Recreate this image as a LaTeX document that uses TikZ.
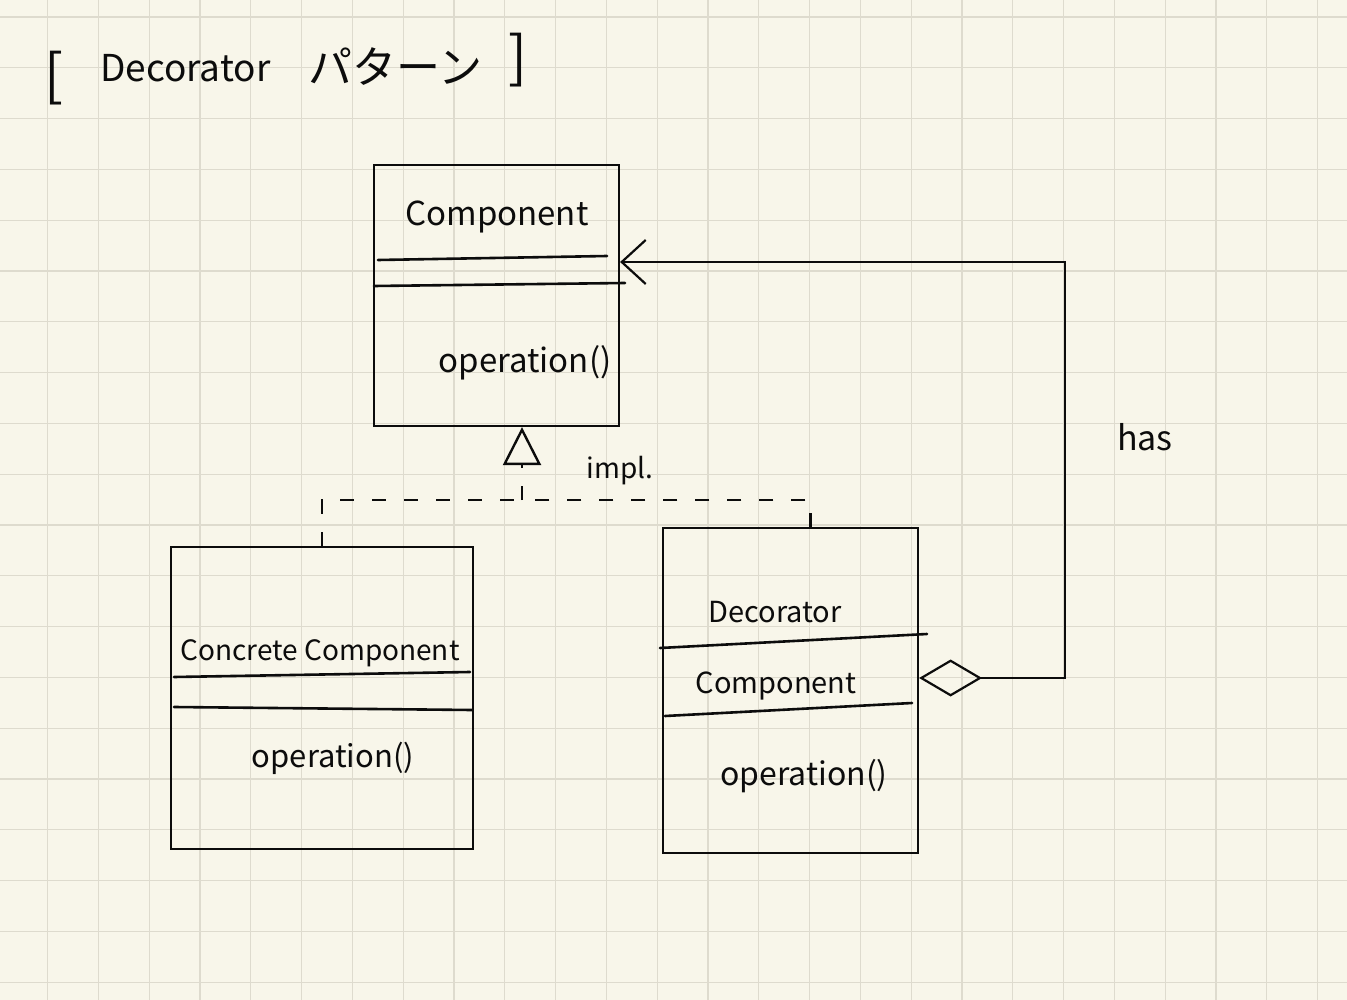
\documentclass[tikz,border=0pt]{standalone}
\usepackage{fontspec}
\setmainfont{Noto Sans CJK JP}
\usetikzlibrary{arrows.meta}
\definecolor{paper}{RGB}{248,246,234}
\definecolor{gridc}{RGB}{222,219,206}
\definecolor{ink}{RGB}{12,12,12}
\begin{document}
\begin{tikzpicture}[x=1pt,y=-1pt]
        \tikzstyle{gridline}=[gridc, line width=1.3pt]
        \tikzstyle{classbox}=[rectangle, draw=ink, line width=2.2pt, inner sep=0pt]
        \tikzstyle{sepline}=[ink, line width=2.6pt, line cap=round]
        \tikzstyle{hand}=[text=ink, inner sep=0pt, anchor=base]
        \tikzstyle{realize}=[ink, line width=2.4pt, dash pattern=on 14pt off 18pt]
        \tikzstyle{assoc}=[ink, line width=2.2pt, {Diamond[open,length=63pt,width=37pt]}-{Straight Barb[length=24pt,width=44pt]}]
        \useasboundingbox (0,0) rectangle (1347,1000);
        \fill[paper] (0,0) rectangle (1347,1000);
        \foreach \i in {0,...,25} \draw[gridline] ({47.6+50.8*\i},0) -- ({47.6+50.8*\i},1000);
        \foreach \j in {0,...,19} \draw[gridline] (0,{17+50.8*\j}) -- (1347,{17+50.8*\j});
        \node[hand, font=\fontsize{56}{60}\selectfont, anchor=base west] (lbrack) at (44,96) {[};
        \node[hand, font=\fontsize{37}{42}\selectfont, anchor=base west] (titleen) at (100,82) {Decorator};
        \node[hand, font=\fontsize{44}{48}\selectfont, anchor=base west] (titleja) at (308,84) {パターン};
        \node[hand, font=\fontsize{56}{60}\selectfont, anchor=base west] (rbrack) at (508,78) {]};
        \node[classbox, minimum width=245pt, minimum height=261pt] (comp) at (496.5,295.5) {};
        \node[classbox, minimum width=302pt, minimum height=302pt] (cc) at (322,698) {};
        \node[classbox, minimum width=255pt, minimum height=325pt] (dec) at (790.5,690.5) {};
        \node[hand, font=\fontsize{33}{38}\selectfont] (compname) at (497,226) {Component};
        \node[hand, font=\fontsize{33}{38}\selectfont] (compop) at (525,372) {operation()};
        \node[hand, font=\fontsize{28}{32}\selectfont] (ccname) at (320,660) {Concrete Component};
        \node[hand, font=\fontsize{31}{36}\selectfont] (ccop) at (333,767) {operation()};
        \node[hand, font=\fontsize{29}{34}\selectfont] (decname) at (775,622) {Decorator};
        \node[hand, font=\fontsize{29}{34}\selectfont] (decattr) at (776,693) {Component};
        \node[hand, font=\fontsize{32}{36}\selectfont] (decop) at (804,785) {operation()};
        \node[hand, font=\fontsize{28}{32}\selectfont] (impl) at (620,478) {impl.};
        \node[hand, font=\fontsize{34}{38}\selectfont] (has) at (1145,450) {has};
        \draw[sepline] (378,260) -- (607,256);
        \draw[sepline] (374,286) -- (625,283);
        \draw[sepline] (174,677) -- (470,672);
        \draw[sepline] (174,707) -- (472,710);
        \draw[sepline] (660,648) -- (927,634);
        \draw[sepline] (665,716) -- (912,703);
        \coordinate (hasbot) at (1065,678);
        \coordinate (hastop) at (1065,262);
        \coordinate (join) at (522,500);
        \draw[assoc] (dec.east |- hasbot) -- (hasbot) -- (hastop) -- (comp.east |- hastop);
        \draw[realize] (cc.north) |- (join);
        \draw[realize] ([xshift=20pt]dec.north) |- (join);
        \draw[realize, -{Triangle[open,length=38pt,width=38pt]}] (join) -- (comp.south -| join);
      \end{tikzpicture}
\end{document}
